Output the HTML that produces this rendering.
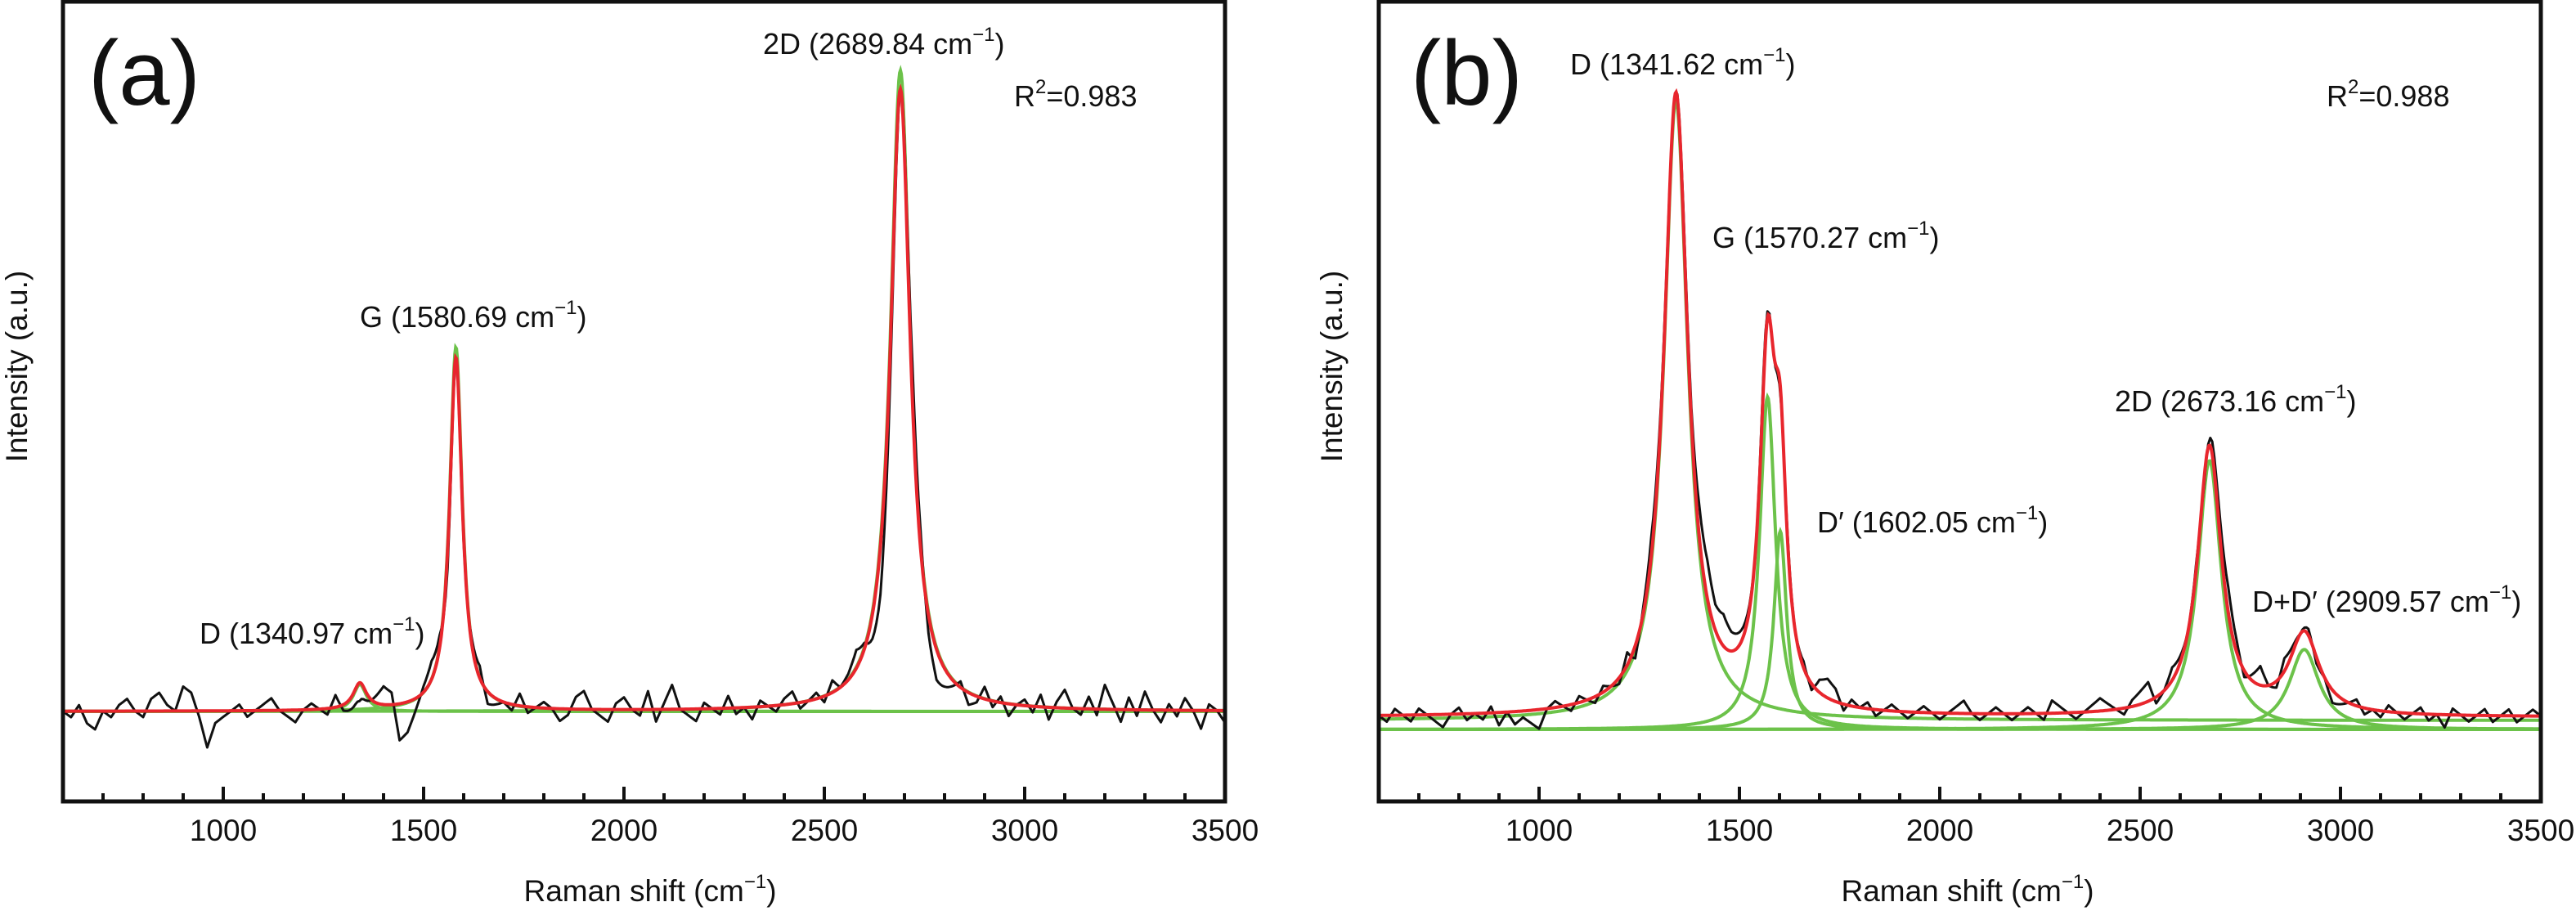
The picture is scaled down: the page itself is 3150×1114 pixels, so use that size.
<!DOCTYPE html>
<html><head><meta charset="utf-8">
<style>
html,body{margin:0;padding:0;background:#fff;}
svg{display:block;}
text{font-family:"Liberation Sans",Arial,sans-serif;fill:#111;}
</style></head>
<body>
<svg id="chart" width="3150" height="1114" viewBox="0 0 3150 1114" xmlns="http://www.w3.org/2000/svg">
<g id="pa"></g>
<g id="pb"></g>
</svg>
<script>
// ---------- data ----------
const xTicks = [1000,1500,2000,2500,3000,3500];
const xTickLabels = ["1000","1500","2000","2500","3000","3500"];
// Panel a peaks
const aCenters = [1340.97, 1580.69, 2689.84];
const aAmps = [4.3, 58, 102];
const aHwhm = [20, 19, 30];
const aOffset = [0];
// Panel b peaks: D, G, D', 2D, D+D'
const bCenters = [1341.62, 1570.27, 1602.05, 2673.16, 2909.57];
const bAmps = [97, 52, 31, 42, 12.5];
const bHwhm = [36, 24, 19, 36, 45];
const bCompBase = [1.4, 0, 0, 0, 0];
const bOffset = [1.9];
// residual noise of measured spectrum, every 20 cm-1 from 600 to 3500
const aResid = [0,-1,1,-2,-3,0,-1,1,2,0,-1,2,3,1,0,4,3,-1,-6,-2,-1,0,1,-1,0,1,2,0,-1,-2,0,1,0,-1,2,-1,-2,-3,-1,1,3,2,-6,-5,-2,1,3,2,-3,0,-1,1,2,-2,-1,0,-1,2,-1,0,1,0,-2,-1,2,3,0,-1,-2,1,2,0,-1,3,-2,1,4,0,-1,-2,1,0,-1,2,-1,0,-2,1,0,-1,1,2,-1,0,1,-1,2,0,1,3,1,-4,-8,-6,-2,2,6,3,-3,-5,-3,-1,1,-2,-1,2,-1,1,-2,0,1,-1,2,-2,1,3,0,-1,2,-1,4,1,-2,2,-1,3,0,-2,1,-1,2,0,-3,1,0,-2];
const bResid = [0,-1,1,0,-1,1,0,-1,-2,0,1,-1,0,-1,1,-2,0,-2,-1,-2,-3,0,1,0,-1,1,0,-1,1,0,-1,2,-2,1,3,2,1,0,2,2,5,6,4,5,3,2,1,0,2,0,-1,1,0,1,-1,2,3,2,-1,1,0,1,-1,0,1,0,-1,0,1,0,-1,0,1,2,0,-1,0,1,0,-1,0,1,0,-1,2,1,0,-1,0,1,2,1,0,-1,1,2,3,-1,0,2,1,0,1,-1,2,3,4,2,-1,1,3,0,-1,2,1,0,1,-1,0,-2,-1,0,1,-1,0,-1,1,0,-1,0,1,-1,0,-2,1,0,-1,0,1,-1,0,1,-1,0,1,0];

// ---------- layout ----------
const NS = "http://www.w3.org/2000/svg";
function mk(parent, tag, attrs, txt){
  const e = document.createElementNS(NS, tag);
  for (const k in attrs) e.setAttribute(k, attrs[k]);
  if (txt !== undefined) e.textContent = txt;
  parent.appendChild(e); return e;
}
function lor(x, c, a, w){ return a/(1+((x-c)/w)*((x-c)/w)); }

function panel(g, L, R, T, B, yBase, k, centers, amps, hwhm, compBase, offset, resid){
  const sx = x => L + (x-600)/(3500-600)*(R-L);
  const sy = v => yBase - v*k;
  const clip = "clip"+L;
  const cp = mk(g,"clipPath",{id:clip}); mk(cp,"rect",{x:L,y:T,width:R-L,height:B-T});
  const fine = []; for (let x=600; x<=3500; x+=2) fine.push(x);
  const total = x => { let v = offset[0]; centers.forEach((c,i)=>{v+=lor(x,c,amps[i],hwhm[i]);}); return v; };
  const cg = mk(g,"g",{"clip-path":"url(#"+clip+")"});
  
  
  centers.forEach((c,i)=>{
    const d = fine.map((x,j)=>(j?"L":"M")+sx(x).toFixed(1)+","+sy((compBase?compBase[i]:0)+lor(x,c,amps[i]*(compBase?1:1.03),hwhm[i])).toFixed(1)).join("");
    const p = mk(cg,"path",{d:d,fill:"none",stroke:"#6cc24a","stroke-width":4});
    
    
  });
  const mpts = [];
  for (let x=600; x<=3500; x+=5){
    const f = (x-600)/20, i0 = Math.min(Math.floor(f), resid.length-1), i1 = Math.min(i0+1, resid.length-1), t = f-i0;
    const r = resid[i0]*(1-t)+resid[i1]*t;
    mpts.push((mpts.length?"L":"M")+sx(x).toFixed(1)+","+sy(total(x)+r).toFixed(1));
  }
  const meas = mk(cg,"path",{d:mpts.join(""),fill:"none",stroke:"#111","stroke-width":3,"stroke-linejoin":"round"});
  
  
  const df = fine.map((x,j)=>(j?"L":"M")+sx(x).toFixed(1)+","+sy(total(x)).toFixed(1)).join("");
  const fit = mk(cg,"path",{d:df,fill:"none",stroke:"#e8262d","stroke-width":4});
  
  
  const fr = mk(g,"rect",{x:L,y:T,width:R-L,height:B-T,fill:"none",stroke:"#111","stroke-width":5});
  
  
  for (let x=700; x<=3400; x+=100){
    const major = x%500===0;
    mk(g,"line",{x1:sx(x),x2:sx(x),y1:B,y2:B-(major?18:10),stroke:"#111","stroke-width":4});
  }
  xTicks.forEach((t,i)=>{
    const tl = mk(g,"text",{x:sx(t),y:B+48,"text-anchor":"middle","font-size":37},xTickLabels[i]);
    
    
  });
  return {sx,sy};
}
const pa = document.getElementById('pa'), pb = document.getElementById('pb');
panel(pa, 77, 1498, 2, 980, 870, 7.46, aCenters, aAmps, aHwhm, null, aOffset, aResid);
panel(pb, 1686, 3107, 2, 980, 892, 7.82, bCenters, bAmps, bHwhm, bCompBase, bOffset, bResid);

function label(g, x, y, size, html, name, anchor){
  const t = mk(g,"text",{x:x,y:y,"font-size":size,"text-anchor":anchor||"start"});
  t.innerHTML = html;
  
  
  return t;
}
const cm = '<tspan font-size="24" dy="-16">−1</tspan><tspan dy="16">)</tspan>';
label(pa,108,128,112,'(a)','panel-a-label');
label(pa,933,66,36,'2D (2689.84 cm'+cm,'peak-2d-label-a');
label(pa,1240,130,36,'R<tspan font-size="24" dy="-16">2</tspan><tspan dy="16">=0.983</tspan>','r2-label-a');
label(pa,440,400,36,'G (1580.69 cm'+cm,'peak-g-label-a');
label(pa,244,787,36,'D (1340.97 cm'+cm,'peak-d-label-a');
label(pa,795,1102,37,'Raman shift (cm'+cm,'x-axis-title-a','middle');
const ya = label(pa,0,0,37,'Intensity (a.u.)','y-axis-title-a','middle');
ya.setAttribute('transform','translate(33,448) rotate(-90)');

label(pb,1725,128,112,'(b)','panel-b-label');
label(pb,1920,91,36,'D (1341.62 cm'+cm,'peak-d-label-b');
label(pb,2845,130,36,'R<tspan font-size="24" dy="-16">2</tspan><tspan dy="16">=0.988</tspan>','r2-label-b');
label(pb,2094,303,36,'G (1570.27 cm'+cm,'peak-g-label-b');
label(pb,2222,651,36,'D′ (1602.05 cm'+cm,'peak-dprime-label-b');
label(pb,2586,503,36,'2D (2673.16 cm'+cm,'peak-2d-label-b');
label(pb,2754,748,36,'D+D′ (2909.57 cm'+cm,'peak-ddprime-label-b');
label(pb,2406,1102,37,'Raman shift (cm'+cm,'x-axis-title-b','middle');
const yb = label(pb,0,0,37,'Intensity (a.u.)','y-axis-title-b','middle');
yb.setAttribute('transform','translate(1641,448) rotate(-90)');
</script>
</body></html>
